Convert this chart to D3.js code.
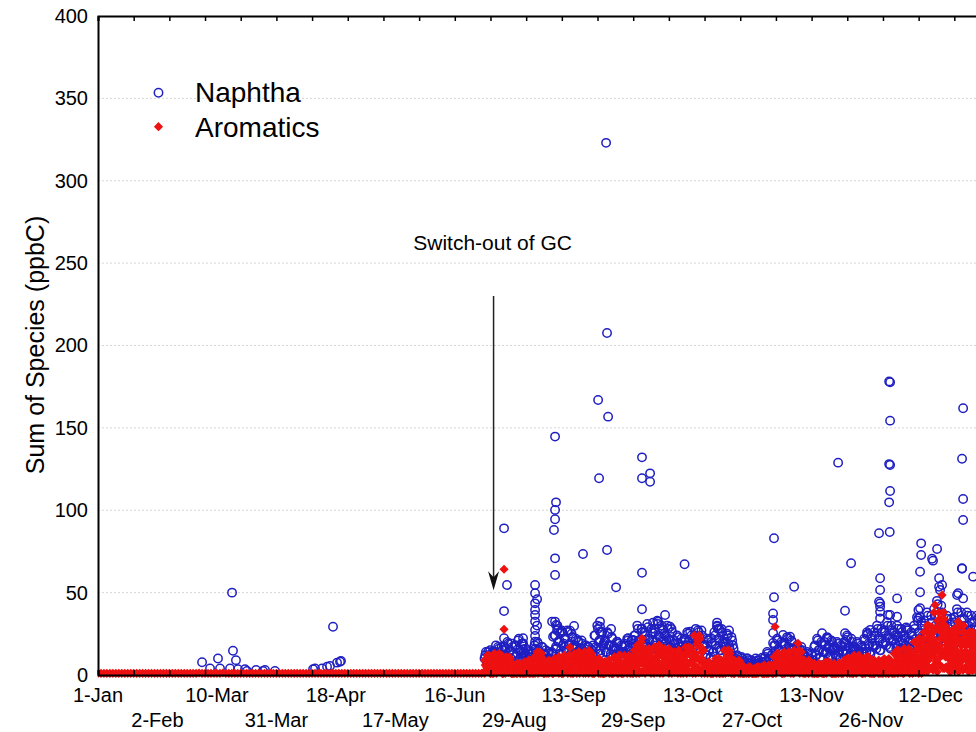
<!DOCTYPE html>
<html><head><meta charset="utf-8">
<script src="https://cdn.jsdelivr.net/npm/d3@7/dist/d3.min.js"></script>
<style>body{margin:0;background:#fff} text{font-family:Arial,"Liberation Sans",sans-serif;fill:#000}</style>
</head><body><script>
// ---------------- DATA ----------------
const xTickLabels = ["1-Jan","2-Feb","10-Mar","31-Mar","18-Apr","17-May","16-Jun","29-Aug","13-Sep","29-Sep","13-Oct","27-Oct","13-Nov","26-Nov","12-Dec"];
const xLabelSamples = [0,500,1000,1500,2000,2500,3000,3500,4000,4500,5000,5500,6000,6500,7000];
const yTickValues = [0,50,100,150,200,250,300,350,400];
const seriesNames = ["Naphtha","Aromatics"];

// Aromatics, regular samples (start 0, every 25 samples) — flat baseline period
const aromaticsEarlyStart = 0, aromaticsEarlyStep = 25;
const aromaticsEarly = [
1,1,1,1,1,1,1,1,1,1, 1,1,1,1,1,1,1,1,1,1,
1,1,1,1,1,1,1,1,1,1, 1,1,1,1,1.2,1,1,1,1,1,
1,1,1.2,1,1,1,1,1,1,1, 1,1,1,1,1,1,1,1,1,1,
1,1,1,1,1,1,1,1,1,1, 1,1,1,1,1,1,1,1,1,1,
1,1,1,1,1,1,1,1,1,1, 1,1,1,1,1,1,1,1,1,1,
1,1,1,1,1,1,1,1,1,1, 1,1,1,1,1,1,1,1,1,1,
1,1,1,1,1,1,1,1,1,1];

// Aromatics, low readings after the switch-out (start 3250, every 25 samples)
const aromaticsLowStart = 3250, aromaticsLowStep = 25;
const aromaticsLow = [
1,2,1,1.5,1,2,1,1,1.5,1, 2,1,1,1.5,1,1,2,1,1,1.5, 1,1,2,1,1.5,1,1,2,1,1,
1.5,1,1,2,1,1,1.5,1,2,1, 1,1.5,1,1,2,1,1,1.5,1,1, 2,1,1,1.5,1,2,1,1,1.5,1,
1,2,1,1,1.5,1,1,2,1,1.5, 1,1,1.5,1,2,1,1,1.5,1,1, 2,1,1.5,1,1,2,1,1,1.5,1,
1,1.5,1,2,1,1,1.5,1,1,2, 1,1,1.5,1,1,2,1,1.5,1,1, 2,1,1,1.5,1,1,2,1,1,1.5,
1,2,1,1.5,1,1,2,1,1,1.5, 1,1,2,1,1.5,1,1,2,1,1, 1.5,1,2,1,1,1.5,1,1];

// Aromatics after the GC switch-out (start 3250, every 12 samples)
const aromaticsLateStart = 3250, aromaticsLateStep = 12;
const aromaticsLate = [
9,3,12,6,1,11,4, 13,5,2,10,7,12,3, 8,11,2,6,10,1,5, 6,2,7,4,1,5,3, 8,3,5,9,1,6,2,
11,4,14,7,2,13,5, 9,3,6,1,8,4,7, 10,2,7,11,4,1,8, 12,5,9,2,11,6,3, 13,4,9,14,2,7,11,
14,6,2,11,8,13,3, 10,3,7,1,9,5,2, 8,2,6,9,3,1,5, 11,4,1,9,12,6,2, 12,7,2,10,4,11,3,
15,5,18,9,2,13,7, 16,6,11,2,14,8,4, 17,9,3,18,12,5,15, 16,7,12,2,14,9,4, 14,5,10,15,3,8,12,
12,17,6,14,2,16,9, 24,10,19,4,22,14,7, 8,2,6,4,7,1,5, 7,10,3,8,1,9,5, 15,6,11,2,13,8,4,
9,3,7,1,8,5,2, 5,2,4,1,5,3,1, 4,1,5,3,2,5,1, 6,2,5,1,4,6,3, 11,4,13,7,2,12,6,
14,5,10,2,13,8,3, 15,7,12,3,10,14,5, 9,3,7,1,8,4,2, 7,2,5,1,6,4,3, 6,8,2,5,7,1,4,
7,3,5,1,6,2,4, 9,3,10,6,1,8,4, 12,5,9,2,11,7,3, 10,4,11,7,1,9,5, 9,3,6,1,8,4,7,
10,4,7,1,9,5,2, 13,5,15,9,2,12,6, 16,7,12,3,14,9,4, 20,8,15,3,22,12,6, 26,10,30,18,4,23,14,
38,16,29,7,34,22,12, 27,11,20,4,24,16,8, 28,12,22,5,30,18,9, 25,10,19,3,26,14,7, 24,9,17,4,21,12,6];

// Aromatics, interleaved samples (start 3256, every 12 samples)
const aromaticsLateBStart = 3256, aromaticsLateBStep = 12;
const aromaticsLateB = [
6,2,10,5,8,1,7, 7,3,11,5,9,1,8, 6,2,9,4,7,1,5, 4,1,6,3,5,1,4, 5,2,8,4,6,1,5,
8,3,12,6,10,2,9, 5,2,8,4,6,1,5, 6,2,9,5,8,1,7, 7,2,10,5,8,1,6, 8,3,12,6,10,2,9,
8,3,12,6,10,1,9, 6,2,8,4,7,1,5, 5,2,7,4,6,1,5, 7,2,10,5,8,1,6, 6,3,10,5,8,1,7,
10,4,16,7,13,2,11, 9,3,13,6,11,2,10, 10,4,15,7,13,2,11, 9,3,13,6,11,2,10, 8,3,13,6,10,2,9,
9,3,15,7,12,2,11, 13,5,21,9,17,3,15, 4,2,7,3,5,1,4, 5,2,8,4,6,1,6, 8,3,12,6,10,2,9,
5,2,7,4,6,1,5, 3,1,4,2,3,1,3, 3,1,4,2,3,1,2, 3,1,5,2,4,1,3, 7,3,11,5,9,1,8,
8,3,12,6,10,2,9, 8,3,13,6,10,2,9, 5,2,7,4,6,1,5, 4,1,6,3,5,1,4, 4,2,7,3,5,1,5,
4,1,6,3,5,1,4, 5,2,8,4,7,1,6, 7,2,10,5,8,1,6, 6,2,9,4,7,1,5, 5,2,8,4,6,1,5,
5,2,8,4,7,1,6, 8,3,13,6,10,2,9, 9,3,14,6,11,2,10, 12,4,19,8,16,3,14, 16,6,26,11,21,4,19,
20,8,33,14,27,5,24, 15,5,23,10,19,3,17, 16,6,26,11,21,4,19, 14,5,22,9,18,3,16, 13,4,20,9,17,3,15];

// Aromatics, interleaved samples (start 3253, every 12 samples)
const aromaticsLateCStart = 3253, aromaticsLateCStep = 12;
const aromaticsLateC = [
2,5,9,12,8,5,1, 2,6,10,13,9,5,1, 2,5,8,11,8,4,1, 1,3,5,7,5,3,1, 1,4,7,9,6,4,1,
2,6,10,14,10,6,1, 1,4,7,9,6,4,1, 2,5,8,11,8,4,1, 2,5,9,12,8,5,1, 2,6,10,14,10,6,1,
2,6,10,14,10,6,1, 2,4,7,10,7,4,1, 1,4,7,9,6,4,1, 2,5,9,12,8,5,1, 2,5,9,12,8,5,1,
3,8,13,18,13,7,2, 2,7,12,16,11,6,2, 3,8,13,18,13,7,2, 2,7,12,16,11,6,2, 2,7,11,15,10,6,1,
3,8,13,17,12,7,2, 4,11,18,24,17,10,2, 1,4,6,8,6,3,1, 2,4,7,10,7,4,1, 2,7,11,15,10,6,1,
1,4,7,9,6,4,1, 1,2,4,5,4,2,1, 1,2,4,5,4,2,1, 1,3,4,6,4,2,1, 2,6,10,13,9,5,1,
2,6,10,14,10,6,1, 2,7,11,15,10,6,1, 1,4,7,9,6,4,1, 1,3,5,7,5,3,1, 1,4,6,8,6,3,1,
1,3,5,7,5,3,1, 2,4,7,10,7,4,1, 2,5,9,12,8,5,1, 2,5,8,11,8,4,1, 1,4,7,9,6,4,1,
2,4,7,10,7,4,1, 2,7,11,15,10,6,1, 2,7,12,16,11,6,2, 3,10,16,22,15,9,2, 4,13,22,30,21,12,3,
6,17,28,38,27,15,4, 4,12,20,27,19,11,3, 4,13,22,30,21,12,3, 4,12,19,26,18,10,3, 4,11,18,24,17,10,2];

// Aromatics, dense December period (start 6912, every 6 samples)
const aromaticsDecStart = 6912, aromaticsDecStep = 6;
const aromaticsDec = [
2,6,10,14,18,22,18,14,10,6,2,5,9,13,
17,21,25,29,26,22,18,14,10,6,2,6,10,14,
18,22,26,30,34,38,34,30,26,22,18,14,10,6,
2,6,10,14,18,22,26,22,18,14,10,6,2,6,
10,14,18,22,26,30,26,22,18,14,10,6,2,6,
10,14,18,22,26,22,18,14,10,6,2,6,10,14,18,22];

// Aromatics points standing above the dense band: [sample, value]
const aromaticsPeaks = [[3414,64.2],[3414,27.7],[3288,11],[3347,12],[3969,16.8],[4129,14.8],[4574,22.3],[4566,20],
[5298,15.2],[5693,29.3],[5886,19.2],[7097,48.5],[7038,42.5],[7232,32.4]];

// Naphtha after the GC switch-out (start 3250, every 12 samples)
const naphthaLateStart = 3250, naphthaLateStep = 12;
const naphthaLate = [
10,14,6,12,15,8,11, 14,18,9,16,12,17,10, 17,12,20,9,15,19,13, 11,18,8,22,14,19,10, 12,16,9,14,7,13,11,
18,12,20,15,9,17,13, 12,15,8,13,10,14,9, 24,16,30,20,13,27,18, 22,15,27,18,12,25,16, 18,22,14,20,16,21,13,
16,18,12,17,14,15,18, 24,17,30,20,13,26,18, 20,14,26,18,11,23,15, 17,12,20,15,10,18,14, 19,13,22,16,12,21,17,
24,18,30,21,15,28,20, 26,19,31,22,16,28,21, 28,20,33,24,18,30,22, 25,19,30,22,17,28,21, 21,16,24,19,15,22,18,
22,17,26,20,15,24,18, 24,28,20,26,22,27,19, 18,12,22,15,10,20,14, 26,18,30,22,15,28,20, 22,17,25,19,15,23,18,
10,7,12,9,6,11,8, 8,5,10,7,4,9,6, 7,10,5,9,6,8,4, 10,6,14,9,5,12,8, 18,12,22,16,10,20,14,
19,14,23,17,12,21,16, 16,12,18,14,10,17,13, 12,8,14,10,7,13,9, 17,12,22,15,10,20,14, 20,14,23,17,12,21,15,
17,12,20,15,10,18,14, 20,15,24,18,12,22,16, 17,12,20,15,11,18,14, 22,16,26,19,14,24,18, 26,18,30,22,15,28,20,
27,20,32,24,17,30,22, 26,19,30,23,16,28,21, 24,18,28,21,16,26,20, 30,22,35,26,19,32,24, 33,25,38,29,21,36,27,
40,30,45,35,26,42,32, 32,24,36,28,20,34,26, 35,27,40,31,23,38,29, 34,26,38,30,22,36,28, 32,24,36,28,20,34,26];

// Naphtha, interleaved samples (start 3256, every 12 samples)
const naphthaLateBStart = 3256, naphthaLateBStep = 12;
const naphthaLateB = [
12,8,14,10,7,13,9, 14,10,17,12,9,15,11, 16,11,19,14,10,17,13, 18,12,21,15,11,19,14, 13,9,15,11,8,14,10,
16,11,19,14,10,17,13, 12,8,14,10,7,13,9, 24,16,28,21,15,26,19, 22,15,26,19,13,23,17, 18,12,21,15,11,19,14,
14,10,17,12,9,15,11, 24,16,28,21,15,26,19, 21,14,25,18,13,22,17, 16,11,19,14,10,17,13, 18,12,21,15,11,19,14,
24,16,28,21,15,26,19, 24,17,29,21,15,26,20, 26,18,31,23,16,28,21, 24,16,28,21,15,26,19, 19,13,23,17,12,20,16,
21,14,25,18,13,22,17, 22,15,27,20,14,24,18, 18,12,21,15,11,19,14, 24,16,28,21,15,26,19, 20,14,24,17,12,21,16,
10,7,11,8,6,10,8, 8,5,9,7,5,8,6, 8,6,9,7,5,8,6, 11,8,13,10,7,12,9, 18,12,21,15,11,19,14,
18,13,22,16,11,20,15, 14,10,17,12,9,15,11, 11,8,13,10,7,12,9, 18,12,21,15,11,19,14, 18,13,22,16,11,20,15,
16,11,19,14,10,17,13, 19,13,23,17,12,20,16, 16,11,19,14,10,17,13, 21,14,25,18,13,22,17, 24,16,28,21,15,26,19,
26,18,30,22,16,27,21, 24,16,28,21,15,26,19, 22,15,27,20,14,24,18, 28,19,33,25,17,30,23, 30,21,36,27,19,32,25,
36,25,43,32,22,38,29, 29,20,34,25,18,31,23, 32,22,38,28,20,34,26, 30,21,36,27,19,32,25, 29,20,34,25,18,31,23];

// Naphtha individual points outside the dense band: [sample, value]
const naphthaScatter = [
[1127,50],[1135,14.7],[1160,9],[1009,10],[875,7.7],[1026,4],[942,4],[1110,4],[1177,3.5],[1236,3.5],[1253,2.5],[1329,3],[1387,2.5],[1404,3],[1488,2.5],
[1976,29.3],[2035,8],[2010,7.5],[1951,5.5],[1884,4],[1825,4],[1926,5],[2043,8.5],[1808,3.5],
[4272,323],[4280,207.6],[4205,166.9],[4289,156.8],[3843,144.7],[4574,132.1],[4213,119.4],[4574,119.4],[4642,122.4],[4642,117.3],
[3851,104.8],[3843,100.2],[3843,94.5],[3834,88],[3414,89],[3843,70.8],[4078,73.4],[4280,75.9],[4932,67.2],[3843,60.7],[4574,62.1],
[3439,54.6],[4356,53.2],[3414,38.8],[4574,39.9],[4574,28],[3414,22.3],[3414,17.2],[3318,14.1],
[3574,22.3],[3574,19.2],[3574,15.6],[3574,13.2],
[3675,54.6],[3675,49.6],[3675,43.5],[3675,39.5],[3675,36.4],[3675,32.4],[3675,27.3],[3675,23.7],[3675,20.2],[3675,15.6],[3692,46],[3692,30],
[3818,32.4],[3851,30.4],[3885,25.3],[3826,23.2],[3868,20.2],[3851,17.2],[3843,32.4],[3860,27],
[3969,26.9],[4003,29.7],[4221,32.4],[4221,29.3],[4221,26.3],[4221,21.2],[4314,27.9],[4364,20.2],[4457,22.3],[4499,21.2],[4490,21.2],
[4667,31.8],[4667,25.3],[4709,32.4],[4768,36.4],[4810,29.3],[4751,27.3],[4979,26.3],[5205,31.8],[5205,29.3],[5155,22.3],
[5223,28],[5306,27],[5458,10.1],[5584,10.5],[5331,10],
[5684,83],[5684,47.2],[5676,37.4],[5676,33.4],[5676,25.5],[5676,19.4],[5693,14.1],
[5760,24.3],[5819,23.2],[5853,53.6],[5903,15.2],[5996,8.1],[6088,25.3],[6130,22.3],
[6223,128.9],[6281,39],[6281,25.3],[6290,21.2],[6349,17.2],[6349,14.1],[6332,67.8],[6466,24.3],[6492,27.3],
[6567,86],[6576,58.7],[6576,51.6],[6567,44.5],[6576,43.5],[6576,41.5],[6576,38.4],[6576,34.4],
[6660,177.7],[6652,178.2],[6660,154.4],[6660,127.5],[6652,128],[6660,111.7],[6652,104.8],[6657,86.8],
[6643,36.4],[6660,36.4],[6719,46.5],[6719,35.4],[6719,24.3],[6719,17.2],[6795,28.9],
[6921,79.9],[6921,72.8],[6912,62.7],[6912,50.2],[6912,40.5],[6912,35.4],[6898,34.4],[6898,39.5],
[7021,69.4],[7055,76.5],[7013,70.6],[7072,58.7],[7072,53.6],[7097,54.6],[7080,51.6],
[7274,161.9],[7265,131.3],[7274,106.8],[7274,94.1],[7265,64.5],[7265,64.8],[7232,49.6],[7223,48.5],[7274,46.5],[7358,59.7]];

// Annotation anchor (sample, value)
const annotationText = "Switch-out of GC";
const arrowSample = 3326, arrowTopValue = 230, arrowTipValue = 51.5, annotationValue = 258;

// ---------------- CHART ----------------
const W = 976, H = 732;
const BLUE = "#1f1fc2", RED = "#ee1111";
const svg = d3.select("body").append("svg").attr("width", W).attr("height", H);

const x = d3.scaleLinear().domain([0, 7500]).range([98, 990]);
const y = d3.scaleLinear().domain([0, 400]).range([675, 16]);

// gridlines
svg.append("g").selectAll("line").data(yTickValues.filter(v => v > 0 && v < 400)).join("line")
  .attr("x1", x(0)).attr("x2", x(7500)).attr("y1", d => y(d)).attr("y2", d => y(d))
  .attr("stroke", "#d6d6d6").attr("stroke-width", 1).attr("stroke-dasharray", "2,2");

svg.append("clipPath").attr("id", "clip").append("rect")
  .attr("x", x(0)).attr("y", y(400)).attr("width", x(7500) - x(0)).attr("height", y(0) - y(400) + 3);

const plot = svg.append("g").attr("clip-path", "url(#clip)");

const toPts = (arr, start, step) => arr.map((v, i) => [start + i * step, v]);
const naphthaAll = toPts(naphthaLate, naphthaLateStart, naphthaLateStep)
  .concat(toPts(naphthaLateB, naphthaLateBStart, naphthaLateBStep), naphthaScatter);
const aromaticsAll = toPts(aromaticsEarly, aromaticsEarlyStart, aromaticsEarlyStep)
  .concat(toPts(aromaticsLow, aromaticsLowStart, aromaticsLowStep),
          toPts(aromaticsLate, aromaticsLateStart, aromaticsLateStep),
          toPts(aromaticsLateB, aromaticsLateBStart, aromaticsLateBStep),
          toPts(aromaticsLateC, aromaticsLateCStart, aromaticsLateCStep),
          toPts(aromaticsDec, aromaticsDecStart, aromaticsDecStep), aromaticsPeaks);

plot.append("g").selectAll("circle").data(naphthaAll).join("circle")
  .attr("cx", d => x(d[0])).attr("cy", d => y(d[1])).attr("r", 4.2)
  .attr("fill", "none").attr("stroke", BLUE).attr("stroke-width", 1.5);

const diamond = r => `M0,${-r}L${r},0L0,${r}L${-r},0Z`;
plot.append("g").selectAll("path").data(aromaticsAll).join("path")
  .attr("transform", d => `translate(${x(d[0])},${y(d[1])})`)
  .attr("d", diamond(4.6)).attr("fill", RED);

// axes
const tickVals = d3.range(0, 7201, 300);
const axBottom = svg.append("g").attr("transform", `translate(0,${y(0)})`)
  .call(d3.axisBottom(x).tickValues(tickVals).tickSize(-5).tickFormat(""));
const axTop = svg.append("g").attr("transform", `translate(0,${y(400)})`)
  .call(d3.axisTop(x).tickValues(tickVals).tickSize(-5).tickFormat(""));
[axBottom, axTop].forEach(g => {
  g.select(".domain").attr("stroke", "#000").attr("stroke-width", 2);
  g.selectAll(".tick line").attr("stroke", "#000").attr("stroke-width", 1.5);
});
const axLeft = svg.append("g").attr("transform", `translate(${x(0)},0)`)
  .call(d3.axisLeft(y).tickValues(yTickValues).tickSize(0).tickPadding(10));
axLeft.select(".domain").attr("stroke", "#000").attr("stroke-width", 2);
axLeft.selectAll("text").attr("font-size", 20).attr("font-family", "Arial, 'Liberation Sans', sans-serif").attr("fill", "#000");

// x labels in two rows
svg.append("g").selectAll("text").data(xTickLabels).join("text")
  .attr("x", (d, i) => x(xLabelSamples[i]))
  .attr("y", (d, i) => i % 2 === 0 ? 702 : 727)
  .attr("text-anchor", "middle").attr("font-size", 20).text(d => d);

// y title
svg.append("text").attr("transform", "translate(44,345) rotate(-90)")
  .attr("text-anchor", "middle").attr("font-size", 25).text("Sum of Species (ppbC)");

// legend
const lg = svg.append("g");
lg.append("circle").attr("cx", 158.5).attr("cy", 92.7).attr("r", 4.2)
  .attr("fill", "none").attr("stroke", BLUE).attr("stroke-width", 1.5);
lg.append("path").attr("transform", "translate(158.5,126.7)").attr("d", diamond(4.6)).attr("fill", RED);
lg.append("text").attr("x", 195).attr("y", 102).attr("font-size", 28).text(seriesNames[0]);
lg.append("text").attr("x", 195).attr("y", 136.5).attr("font-size", 28).text(seriesNames[1]);

// annotation
svg.append("text").attr("x", x(arrowSample) - 1).attr("y", y(annotationValue))
  .attr("text-anchor", "middle").attr("font-size", 21).text(annotationText);
const ax = x(arrowSample), ay1 = y(arrowTopValue), ay2 = y(arrowTipValue);
svg.append("line").attr("x1", ax).attr("x2", ax).attr("y1", ay1).attr("y2", ay2 - 10)
  .attr("stroke", "#222").attr("stroke-width", 1.5);
svg.append("path").attr("d", `M${ax},${ay2}L${ax-5.5},${ay2-19}L${ax},${ay2-13}L${ax+5.5},${ay2-19}Z`).attr("fill", "#111");
</script></body></html>
